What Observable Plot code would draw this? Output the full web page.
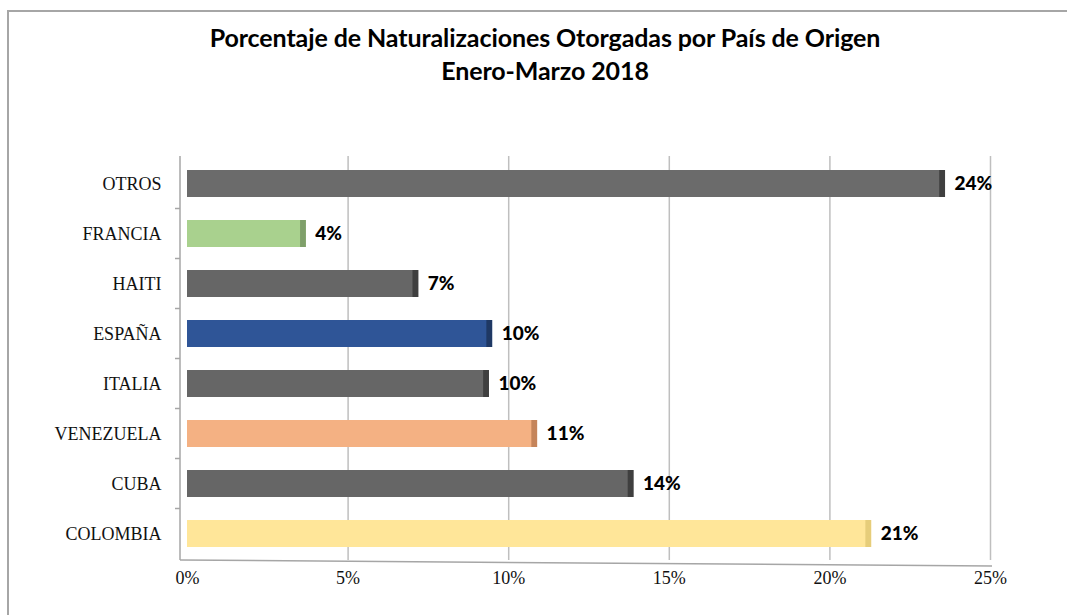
<!DOCTYPE html>
<html>
<head>
<meta charset="utf-8">
<script src="https://cdn.jsdelivr.net/npm/d3@7"></script>
<script src="https://cdn.jsdelivr.net/npm/@observablehq/plot@0.6"></script>
<style>
  html, body { margin: 0; padding: 0; background: #fff; width: 1070px; height: 615px; overflow: hidden; }
  #frame { position: absolute; left: 7px; top: 10px; width: 1060px; height: 610px; border-left: 2px solid #a6a6a6; border-top: 2px solid #a6a6a6; box-sizing: border-box; }
  #title { position: absolute; left: 0; top: 21px; width: 1090px; text-align: center; font-family: Lato, sans-serif; font-weight: bold; font-size: 25px; line-height: 33px; color: #000; letter-spacing: -0.1px; }
  #chart { position: absolute; left: 0; top: 130px; }
</style>
</head>
<body>
<div id="frame"></div>
<div id="title">Porcentaje de Naturalizaciones Otorgadas por País de Origen<br>Enero-Marzo 2018</div>
<div id="chart"></div>
<script>
const countries = ["OTROS", "FRANCIA", "HAITI", "ESPAÑA", "ITALIA", "VENEZUELA", "CUBA", "COLOMBIA"];
const values = [23.6, 3.7, 7.2, 9.5, 9.4, 10.9, 13.9, 21.3];
const valueLabels = ["24%", "4%", "7%", "10%", "10%", "11%", "14%", "21%"];
const colors = ["#6b6b6b", "#a9d18e", "#666666", "#2f5597", "#666666", "#f4b183", "#666666", "#ffe699"];
const capColors = ["#3f3f3f", "#7f9f6a", "#3f3f3f", "#1f3864", "#3f3f3f", "#c5845a", "#3f3f3f", "#e6cd7a"];
const xTicks = [0, 5, 10, 15, 20, 25];
const xTickLabels = ["0%", "5%", "10%", "15%", "20%", "25%"];

const data = countries.map((c, i) => ({
  country: c, value: values[i], label: valueLabels[i], color: colors[i], cap: capColors[i]
}));
const ticks = xTicks.map((t, i) => ({t, label: xTickLabels[i]}));

const chart = Plot.plot({
  width: 1070,
  height: 485,
  marginLeft: 187,
  marginRight: 80,
  marginTop: 26,
  marginBottom: 55,
  x: {domain: [0, 25], axis: null},
  y: {domain: countries, axis: null, paddingInner: 0.46, paddingOuter: 0.27},
  marks: [
    Plot.ruleX(xTicks.filter(t => t > 0), {stroke: "#bfbfbf", strokeWidth: 1.5}),
    Plot.barX(data, {y: "country", x: "value", fill: "color"}),
    Plot.barX(data, {y: "country", x1: d => d.value - 0.18, x2: "value", fill: "cap"}),
    Plot.text(data, {y: "country", x: "value", text: "label", dx: 9, textAnchor: "start",
      fontFamily: "Lato, sans-serif", fontWeight: 900, fontSize: 19, fill: "#000"}),
    Plot.text(data, {y: "country", text: "country", frameAnchor: "left", dx: -26, textAnchor: "end",
      fontFamily: "Liberation Serif, serif", fontSize: 18, fill: "#111"}),
    Plot.text(ticks, {x: "t", text: "label", frameAnchor: "bottom", dy: 23,
      fontFamily: "Liberation Serif, serif", fontSize: 18, fill: "#111"})
  ]
});

const svg = d3.select(chart);
const ys = chart.scale("y");
const step = ys.step;
const yTop = 26, yBot = 430;
svg.append("line").attr("x1", 180).attr("x2", 180).attr("y1", yTop).attr("y2", yBot).attr("stroke", "#a6a6a6").attr("stroke-width", 1.5);
svg.append("line").attr("x1", 180).attr("x2", 992).attr("y1", yBot).attr("y2", yBot + 6).attr("stroke", "#a6a6a6").attr("stroke-width", 1.5);
countries.forEach((c, i) => {
  if (i === 0) return;
  const yy = ys.apply(c) - (step - ys.bandwidth) / 2;
  svg.append("line").attr("x1", 175).attr("x2", 180).attr("y1", yy).attr("y2", yy).attr("stroke", "#a6a6a6").attr("stroke-width", 1.5);
});
document.getElementById("chart").appendChild(chart);
</script>
</body>
</html>
